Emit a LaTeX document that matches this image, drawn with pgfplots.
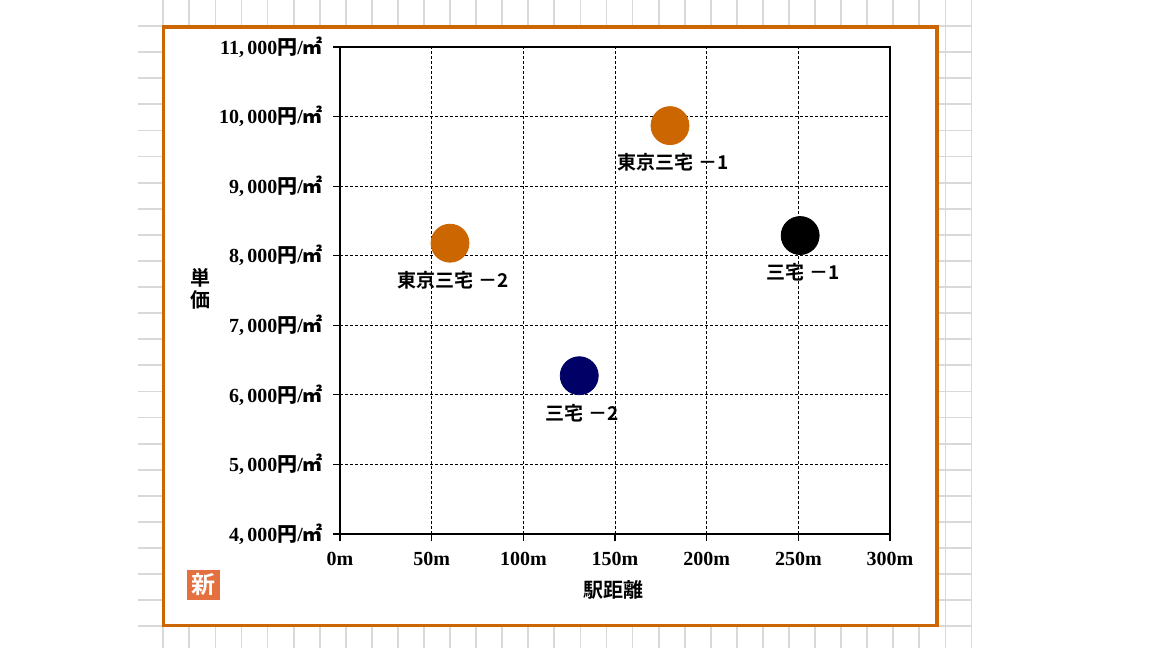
\documentclass[border=0pt]{standalone}
\usepackage{pgfplots}
\pgfplotsset{compat=1.18}
\usepackage{fontspec}
\setmainfont{Liberation Serif}
\newfontfamily\jp{Noto Sans CJK JP Bold}
\definecolor{chartorange}{RGB}{204,102,0}
\definecolor{navy}{RGB}{0,0,102}
\definecolor{cellgray}{RGB}{217,217,217}
\definecolor{badge}{RGB}{228,112,64}
\newcommand{\lab}{\fontsize{10}{11}\selectfont\bfseries}
\begin{document}
\begin{tikzpicture}
\begin{scope}[x=0.5pt,y=-0.5pt]
\path[use as bounding box] (0,0) rectangle (1152,648);
\foreach \i in {0,...,31} {\draw[cellgray, line width=0.9pt] ({163.3+26.07*\i},0) -- ({163.3+26.07*\i},648);}
\foreach \j in {0,...,23} {\draw[cellgray, line width=0.9pt] (137.5,{26+26.1*\j}) -- (972,{26+26.1*\j});}
\draw[chartorange, line width=1.75pt, fill=white] (163.3,27.2) rectangle (937,625.7);
\node[fill=badge, text=white, minimum width=16.5pt, minimum height=15pt, inner sep=0pt, font=\jp\fontsize{12}{12}\selectfont] at (203.3,585) {新};
\end{scope}
\begin{axis}[
  at={(170pt,-267pt)}, anchor=south west,
  scale only axis, width=275pt, height=243.5pt,
  xmin=0, xmax=300, ymin=4000, ymax=11000,
  xtick={0,50,...,300}, ytick={4000,5000,...,11000},
  scaled ticks=false,
  grid=major,
  major grid style={black, line width=0.5pt, dash pattern=on 1.5pt off 1pt},
  axis line style={black, line width=0.6pt},
  tick align=outside, tick pos=left, major tick length=3.5pt,
  tick style={black, line width=0.6pt},
  /pgf/number format/assume math mode=true,
  /pgf/number format/fixed,
  /pgf/number format/precision=0,
  /pgf/number format/1000 sep={,\,},
  xticklabel={\pgfmathprintnumber{\tick}m},
  yticklabel={\pgfmathprintnumber{\tick}{\jp 円}/{\jp ㎡}},
  ticklabel style={font=\lab},
  xticklabel style={yshift=-2pt},
  yticklabel style={xshift=-1.5pt},
  xlabel={駅距離}, ylabel={単\\価},
  every axis x label/.style={at={(axis description cs:0.498,-0.115)}, anchor=center, font=\jp\fontsize{10}{11}\selectfont},
  every axis y label/.style={at={(axis description cs:-0.2545,0.503)}, anchor=center, align=center, font=\jp\fontsize{10}{11}\selectfont},
  nodes near coords style={anchor=center, yshift=-18.5pt, xshift=1.5pt, font=\jp\fontsize{9.5}{11}\selectfont, text=black},
]
\addplot[only marks, mark=*, mark size=9.5pt, mark options={fill=chartorange, draw=chartorange}, nodes near coords={東京三宅 －1}] coordinates {(180,9870)};
\addplot[only marks, mark=*, mark size=9.5pt, mark options={fill=chartorange, draw=chartorange}, nodes near coords={東京三宅 －2}] coordinates {(60,8180)};
\addplot[only marks, mark=*, mark size=9.5pt, mark options={fill=black, draw=black}, nodes near coords={三宅 －1}] coordinates {(251,8290)};
\addplot[only marks, mark=*, mark size=9.5pt, mark options={fill=navy, draw=navy}, nodes near coords={三宅 －2}] coordinates {(130.5,6275)};
\end{axis}
\end{tikzpicture}
\end{document}
